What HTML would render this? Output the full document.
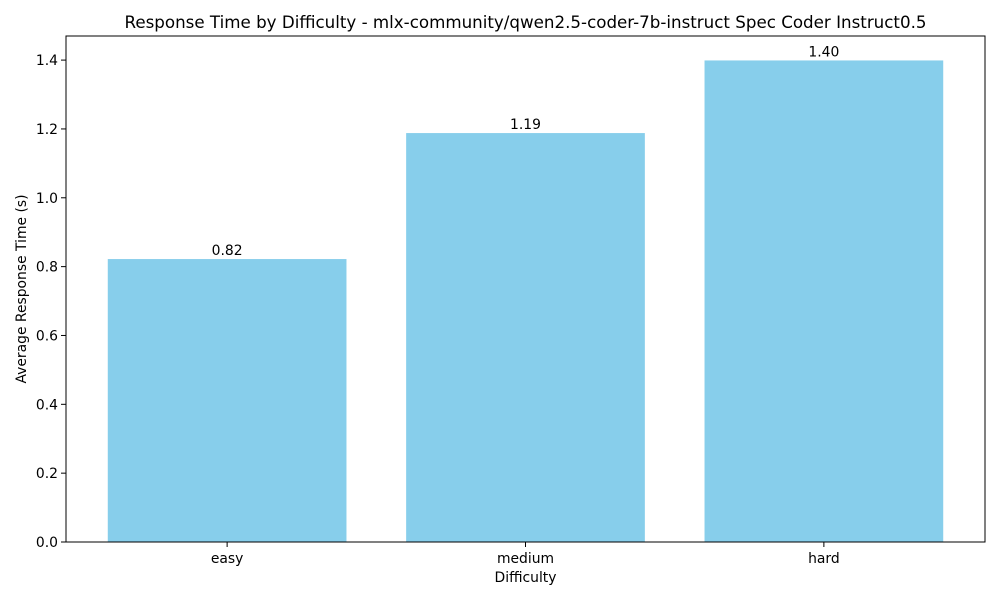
<!DOCTYPE html>
<html><head><meta charset="utf-8"><style>
body{margin:0;background:#fff;}
svg{display:block;font-family:"DejaVu Sans","Liberation Sans",sans-serif;}
</style></head><body>
<svg id="chart" width="1000" height="600" xmlns="http://www.w3.org/2000/svg"></svg>
<script>
const categories = ["easy","medium","hard"];
const values = [0.822, 1.188, 1.399];
const valueLabels = ["0.82","1.19","1.40"];
const yTicks = [0.0,0.2,0.4,0.6,0.8,1.0,1.2,1.4];

const L=66,R=985,T=36,B=542;
const xMin=-0.54,xMax=2.54,yMin=0,yMax=1.47;
const xs=v=>L+(v-xMin)/(xMax-xMin)*(R-L);
const ys=v=>B-(v-yMin)/(yMax-yMin)*(B-T);
const svg=document.getElementById('chart');
const NS='http://www.w3.org/2000/svg';
function mk(tag,attrs,text){const e=document.createElementNS(NS,tag);for(const k in attrs)e.setAttribute(k,attrs[k]);if(text!==undefined)e.textContent=text;svg.appendChild(e);return e;}

categories.forEach((c,i)=>{
  const x0=xs(i-0.4),x1=xs(i+0.4);
  const b=mk('rect',{x:x0,y:ys(values[i]),width:x1-x0,height:ys(0)-ys(values[i]),fill:'#87ceeb'});
  
  
  const t=mk('text',{x:xs(i),y:ys(values[i])-4,'text-anchor':'middle','font-size':13.9,fill:'#000'},valueLabels[i]);
  
  
  mk('line',{x1:xs(i),x2:xs(i),y1:B,y2:B+5,stroke:'#000','stroke-width':1});
  const xl=mk('text',{x:xs(i),y:B+21,'text-anchor':'middle','font-size':13.9},c);
  
  
});
yTicks.forEach(v=>{
  mk('line',{x1:L-5,x2:L,y1:ys(v),y2:ys(v),stroke:'#000','stroke-width':1});
  const t=mk('text',{x:L-8,y:ys(v)+5,'text-anchor':'end','font-size':13.9},v.toFixed(1));
  
  
});
const frame=mk('rect',{x:L,y:T,width:R-L,height:B-T,fill:'none',stroke:'#000','stroke-width':1});


const title=mk('text',{x:(L+R)/2,y:28,'text-anchor':'middle','font-size':16.7},'Response Time by Difficulty - mlx-community/qwen2.5-coder-7b-instruct Spec Coder Instruct0.5');


const xt=mk('text',{x:(L+R)/2,y:582,'text-anchor':'middle','font-size':13.9},'Difficulty');


const yt=mk('text',{x:0,y:1,'text-anchor':'middle','font-size':13.9,transform:'translate(25,'+((T+B)/2)+') rotate(-90)'},'Average Response Time (s)');


</script>
</body></html>
